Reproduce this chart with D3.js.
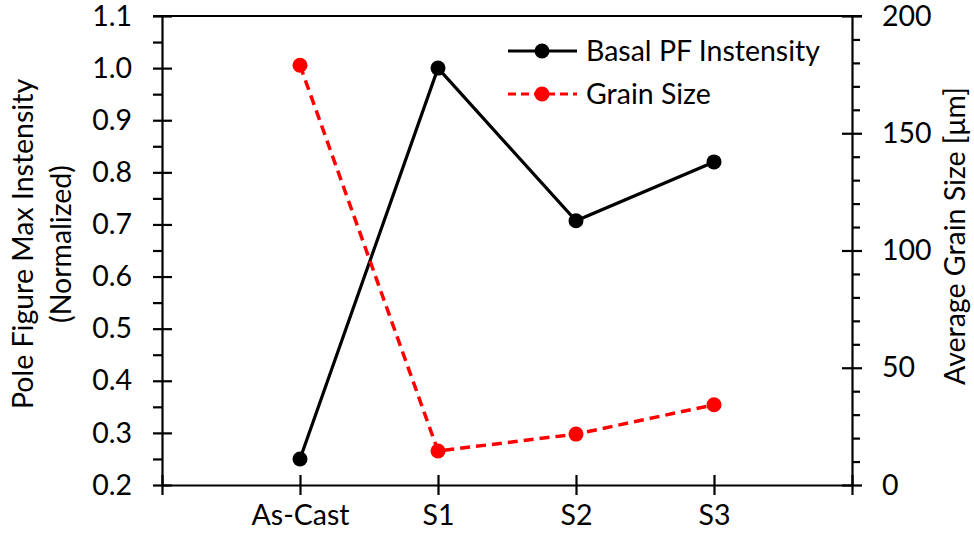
<!DOCTYPE html>
<html>
<head>
<meta charset="utf-8">
<script src="https://cdn.jsdelivr.net/npm/d3@7"></script>
<style>
  html, body { margin: 0; padding: 0; background: #fff; }
  svg { display: block; }
  text { font-family: Lato, "Open Sans", sans-serif; fill: #000; }
</style>
</head>
<body>
<svg id="chart" width="974" height="533"></svg>
<script>
// Samples along the x axis (positions 1..4 on a 0..5 axis)
const categories = ["As-Cast", "S1", "S2", "S3"];
// Normalized max intensity of the basal pole figure (left axis)
const basalIntensity = [0.25, 1.0, 0.707, 0.82];
// Average grain size in µm (right axis)
const grainSize = [179, 14.5, 21.7, 34.2];
// Axis tick values
const leftTicks = [0.2, 0.3, 0.4, 0.5, 0.6, 0.7, 0.8, 0.9, 1.0, 1.1];
const rightTicks = [0, 50, 100, 150, 200];
const seriesNames = ["Basal PF Instensity", "Grain Size"];

const svg = d3.select("#chart");
const plotLeft = 162, plotRight = 852, plotTop = 16, plotBottom = 485;
const font = 28.5;

const x = d3.scaleLinear().domain([0, 5]).range([plotLeft, plotRight]);
const yL = d3.scaleLinear().domain([0.2, 1.1]).range([plotBottom, plotTop]);
const yR = d3.scaleLinear().domain([0, 200]).range([plotBottom, plotTop]);

// minor tick values
const leftMinor = d3.range(0.25, 1.1, 0.1).map(v => +v.toFixed(2));
const rightMinor = d3.range(0, 201, 10).filter(v => v % 50 !== 0);

function styleAxis(g) {
  g.select(".domain").attr("stroke", "#000").attr("stroke-width", 2.2);
  g.selectAll(".tick line").attr("stroke", "#000").attr("stroke-width", 2.2);
  g.selectAll(".tick text").style("font-size", font + "px");
}

// top border
svg.append("line")
  .attr("x1", plotLeft - 9).attr("x2", plotRight + 10)
  .attr("y1", plotTop).attr("y2", plotTop)
  .attr("stroke", "#000").attr("stroke-width", 1.8);

// left axis: minor ticks outside, major ticks crossing
svg.append("g").attr("transform", `translate(${plotLeft},0)`)
  .call(d3.axisLeft(yL).tickValues(leftMinor).tickSize(9).tickFormat(""))
  .call(g => g.select(".domain").remove())
  .call(styleAxis);
svg.append("g").attr("transform", `translate(${plotLeft},0)`)
  .call(d3.axisLeft(yL).tickValues(leftTicks).tickSize(9).tickSizeOuter(0).tickPadding(21)
    .tickFormat(d3.format(".1f")))
  .call(styleAxis)
  .call(g => g.selectAll(".tick line").attr("x1", 10));

// right axis
svg.append("g").attr("transform", `translate(${plotRight},0)`)
  .call(d3.axisRight(yR).tickValues(rightMinor).tickSize(8).tickFormat(""))
  .call(g => g.select(".domain").remove())
  .call(styleAxis);
svg.append("g").attr("transform", `translate(${plotRight},0)`)
  .call(d3.axisRight(yR).tickValues(rightTicks).tickSize(10).tickSizeOuter(0).tickPadding(20))
  .call(styleAxis)
  .call(g => g.selectAll(".tick line").attr("x1", -10));

// bottom axis: ticks at 0..5, labels on sample positions
svg.append("g").attr("transform", `translate(0,${plotBottom})`)
  .call(d3.axisBottom(x).tickValues([0, 1, 2, 3, 4, 5]).tickSize(10).tickSizeOuter(0).tickPadding(10)
    .tickFormat(d => categories[d - 1] || ""))
  .call(styleAxis)
  .call(g => g.selectAll(".tick line").attr("y1", -10));

// basal intensity series
const lineL = d3.line().x((d, i) => x(i + 1)).y(d => yL(d));
svg.append("path").datum(basalIntensity)
  .attr("d", lineL).attr("fill", "none")
  .attr("stroke", "#000").attr("stroke-width", 3.2);
svg.append("g").selectAll("circle").data(basalIntensity).join("circle")
  .attr("cx", (d, i) => x(i + 1)).attr("cy", d => yL(d)).attr("r", 7.5)
  .attr("fill", "#000");

// grain size series
const lineR = d3.line().x((d, i) => x(i + 1)).y(d => yR(d));
svg.append("path").datum(grainSize)
  .attr("d", lineR).attr("fill", "none")
  .attr("stroke", "#ff0000").attr("stroke-width", 3.5)
  .attr("stroke-dasharray", "10,6");
svg.append("g").selectAll("circle").data(grainSize).join("circle")
  .attr("cx", (d, i) => x(i + 1)).attr("cy", d => yR(d)).attr("r", 7.5)
  .attr("fill", "#ff0000");

// legend
const legend = svg.append("g");
const legendRows = [
  { name: seriesNames[0], color: "#000", dash: null, y: 51 },
  { name: seriesNames[1], color: "#ff0000", dash: "8,5", y: 94 }
];
legendRows.forEach(r => {
  legend.append("line").attr("x1", 508).attr("x2", 577).attr("y1", r.y).attr("y2", r.y)
    .attr("stroke", r.color).attr("stroke-width", 3.2)
    .attr("stroke-dasharray", r.dash);
  legend.append("circle").attr("cx", 542).attr("cy", r.y).attr("r", 7.5).attr("fill", r.color);
  legend.append("text").attr("x", 586).attr("y", r.y).attr("dy", "0.35em")
    .style("font-size", font + "px").text(r.name);
});

// axis titles
const lt = svg.append("text").attr("transform", "translate(33,244) rotate(-90)")
  .attr("text-anchor", "middle").style("font-size", font + "px");
lt.append("tspan").attr("x", 0).attr("y", 0).text("Pole Figure Max Instensity");
lt.append("tspan").attr("x", 0).attr("y", 38).text("(Normalized)");

svg.append("text").attr("transform", "translate(965,236) rotate(-90)")
  .attr("text-anchor", "middle").style("font-size", font + "px")
  .text("Average Grain Size [μm]");
</script>
</body>
</html>
